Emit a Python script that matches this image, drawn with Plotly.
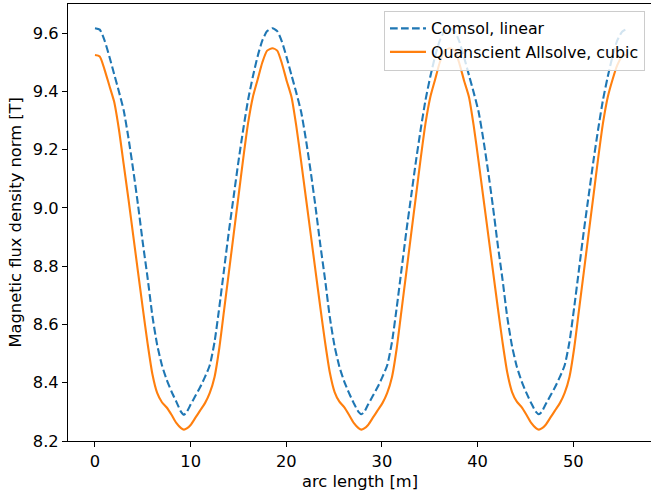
import plotly.graph_objects as go

# arc length [m], shared by both series
arc_length = [
    0.0, 0.5, 1.0, 1.5, 2.0, 2.5, 3.0, 3.5, 4.0, 4.5, 5.0, 5.5, 6.0, 6.5, 7.0, 7.5, 8.0, 8.5, 9.0,
    9.3, 9.6, 10.0, 10.5, 11.0, 11.5, 12.0, 12.5, 13.0, 13.5, 14.0, 14.5, 15.0, 15.5, 16.0, 16.5,
    17.0, 17.5, 18.0,
    18.55, 19.05, 19.55, 20.05, 20.55, 21.05, 21.55, 22.05, 22.55, 23.05, 23.55, 24.05, 24.55,
    25.05, 25.55, 26.05, 26.55, 27.05, 27.55, 27.85, 28.15, 28.55, 29.05, 29.55, 30.05, 30.55,
    31.05, 31.55, 32.05, 32.55, 33.05, 33.55, 34.05, 34.55, 35.05, 35.55, 36.05, 36.55,
    37.1, 37.6, 38.1, 38.6, 39.1, 39.6, 40.1, 40.6, 41.1, 41.6, 42.1, 42.6, 43.1, 43.6, 44.1,
    44.6, 45.1, 45.6, 46.1, 46.4, 46.7, 47.1, 47.6, 48.1, 48.6, 49.1, 49.6, 50.1, 50.6, 51.1,
    51.6, 52.1, 52.6, 53.1, 53.6, 54.1, 54.6, 55.1, 55.6,
]

comsol_linear = [
    9.617, 9.612, 9.575, 9.52, 9.46, 9.40, 9.335, 9.24, 9.13, 9.01, 8.88, 8.76, 8.63, 8.53, 8.46,
    8.41, 8.37, 8.335, 8.30, 8.29, 8.30, 8.325, 8.355, 8.385, 8.42, 8.46, 8.54, 8.66, 8.79, 8.92,
    9.04, 9.16, 9.27, 9.37, 9.45, 9.52, 9.575, 9.607,
    9.617, 9.607, 9.57, 9.515, 9.455, 9.395, 9.33, 9.235, 9.125, 9.005, 8.875, 8.755, 8.625,
    8.525, 8.455, 8.405, 8.365, 8.33, 8.30, 8.292, 8.30, 8.325, 8.355, 8.385, 8.42, 8.46, 8.54,
    8.66, 8.79, 8.92, 9.04, 9.16, 9.27, 9.37, 9.45, 9.52, 9.575, 9.607,
    9.615, 9.607, 9.57, 9.515, 9.455, 9.395, 9.33, 9.235, 9.125, 9.005, 8.875, 8.755, 8.625,
    8.525, 8.455, 8.405, 8.365, 8.33, 8.30, 8.292, 8.30, 8.325, 8.355, 8.385, 8.42, 8.46, 8.54,
    8.66, 8.79, 8.92, 9.04, 9.16, 9.27, 9.37, 9.45, 9.52, 9.575, 9.605, 9.615,
]

allsolve_cubic = [
    9.525, 9.52, 9.475, 9.42, 9.365, 9.27, 9.15, 9.03, 8.905, 8.78, 8.655, 8.535, 8.43, 8.365,
    8.333, 8.315, 8.29, 8.262, 8.244, 8.239, 8.243, 8.255, 8.28, 8.305, 8.33, 8.365, 8.42,
    8.52, 8.65, 8.78, 8.91, 9.04, 9.17, 9.29, 9.38, 9.44, 9.50, 9.54,
    9.548, 9.54, 9.495, 9.435, 9.38, 9.28, 9.16, 9.035, 8.91, 8.785, 8.66, 8.54, 8.435, 8.368,
    8.335, 8.316, 8.29, 8.262, 8.244, 8.239, 8.243, 8.255, 8.28, 8.305, 8.33, 8.365, 8.42,
    8.52, 8.65, 8.78, 8.91, 9.04, 9.17, 9.29, 9.38, 9.44, 9.50, 9.54,
    9.548, 9.54, 9.495, 9.435, 9.38, 9.28, 9.16, 9.035, 8.91, 8.785, 8.66, 8.54, 8.435, 8.368,
    8.335, 8.316, 8.29, 8.262, 8.244, 8.239, 8.243, 8.255, 8.28, 8.305, 8.33, 8.365, 8.42,
    8.52, 8.65, 8.78, 8.91, 9.04, 9.17, 9.29, 9.38, 9.44, 9.49, 9.52, 9.525,
]

x_ticks = [0, 10, 20, 30, 40, 50]
y_ticks = [8.2, 8.4, 8.6, 8.8, 9.0, 9.2, 9.4, 9.6]

BLUE = "#1f77b4"
ORANGE = "#ff7f0e"
FONT = dict(family="DejaVu Sans, Arial, sans-serif", size=16.3, color="#000000")

fig = go.Figure()
fig.add_trace(go.Scatter(
    x=arc_length, y=comsol_linear, mode="lines", name="Comsol, linear",
    line=dict(color=BLUE, width=2.1, dash="7.7px,3.3px", shape="spline", smoothing=0.6),
))
fig.add_trace(go.Scatter(
    x=arc_length, y=allsolve_cubic, mode="lines", name="Quanscient Allsolve, cubic",
    line=dict(color=ORANGE, width=2.1, shape="spline", smoothing=0.6),
))

axis_common = dict(
    showgrid=False, zeroline=False, showline=True, linecolor="#000000", linewidth=1.1,
    ticks="outside", ticklen=5, tickwidth=1.1, tickcolor="#000000",
    tickfont=FONT, automargin=False,
)

# the original figure is cropped on the right, so the axes run past the window edge
fig.update_layout(
    width=661, height=493,
    paper_bgcolor="#ffffff", plot_bgcolor="#ffffff",
    font=FONT,
    margin=dict(l=68, r=0, t=4, b=52, autoexpand=False),
    xaxis=dict(**axis_common, range=[-2.82, 59.17], tickvals=x_ticks, mirror=True),
    yaxis=dict(**axis_common, range=[8.2, 9.7], tickvals=y_ticks, tickformat=".1f"),
    legend=dict(
        x=0.973, y=0.985, xanchor="right", yanchor="top",
        bgcolor="rgba(255,255,255,0.8)", bordercolor="#cccccc", borderwidth=1,
        font=dict(FONT, size=15.8), tracegroupgap=0, itemwidth=36,
    ),
    annotations=[
        dict(text="arc length [m]", xref="paper", yref="paper", x=0.492, y=-0.092,
             xanchor="center", yanchor="middle", showarrow=False, font=FONT),
        dict(text="Magnetic flux density norm [T]", xref="paper", yref="paper",
             x=-0.0877, y=0.5, xanchor="center", yanchor="middle", textangle=-90,
             showarrow=False, font=FONT),
    ],
    showlegend=True,
)

# the page has a default body margin; drop it so the figure sits at the corner
fig.write_html(
    "out.html",
    config={"displayModeBar": False},
    post_script="document.body.style.margin='0';document.body.style.overflow='hidden';",
)
